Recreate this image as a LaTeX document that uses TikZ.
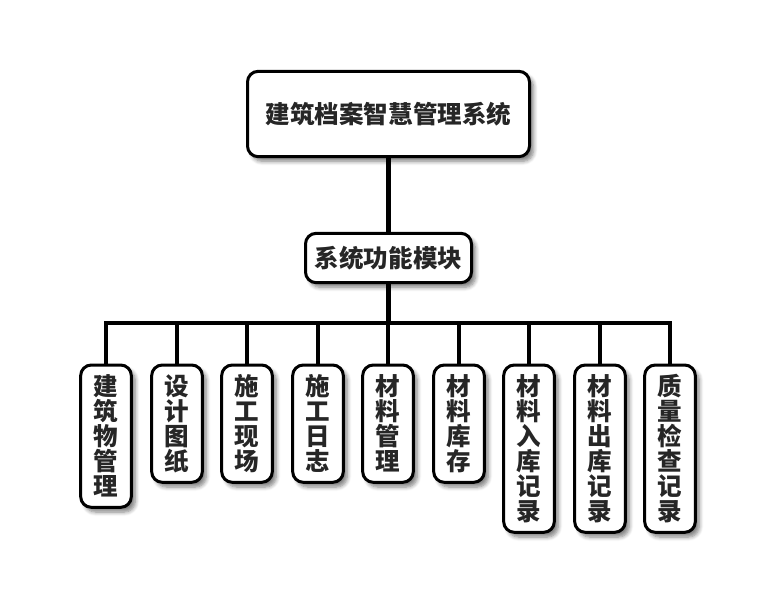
\documentclass[tikz,border=0pt]{standalone}
\usepackage{fontspec}
\newfontfamily\cjk{Noto Sans CJK SC}
\usetikzlibrary{shadows.blur}
\tikzset{
    box/.style={draw=black, line width=2.25pt, rounded corners=8pt, fill=white,
        text=black!85, inner sep=0pt,
        font=\cjk\bfseries\fontsize{18.4}{18.75}\selectfont,
        blur shadow={shadow xshift=3pt, shadow yshift=-3.5pt,
            shadow blur steps=6, shadow blur radius=3pt, shadow opacity=50}},
    leaf/.style={box, anchor=north, align=center, minimum width=38pt,
        minimum height={#1*18.75pt+13pt}},
    link/.style={line width=3.6pt, line join=miter}
}
\begin{document}
\begin{tikzpicture}[x=0.75pt, y=-0.75pt]
    \useasboundingbox (0, 0) rectangle (776, 607);

    \node[box, minimum width=211.5pt, minimum height=64pt] (top) at (388.5, 114) {建筑档案智慧管理系统};
    \node[box, minimum width=124.5pt, minimum height=37pt] (mid) at (388.5, 258) {系统功能模块};
    \coordinate (bus) at (388.5, 323);

    \foreach \i/\x/\n/\t in {1/106/5/{建\\筑\\物\\管\\理},
                             2/177/4/{设\\计\\图\\纸},
                             3/247/4/{施\\工\\现\\场},
                             4/318/4/{施\\工\\日\\志},
                             5/388/4/{材\\料\\管\\理},
                             6/459/4/{材\\料\\库\\存},
                             7/529/6/{材\\料\\入\\库\\记\\录},
                             8/600/6/{材\\料\\出\\库\\记\\录},
                             9/670/6/{质\\量\\检\\查\\记\\录}}
        \node[leaf=\n] (c\i) at (\x, 363.5) {\t};

    \draw[link] (top) -- (mid);
    \draw[link] (mid) -- (bus);
    \foreach \i in {1,...,9}
        \draw[link] (c\i.north) |- (bus);
\end{tikzpicture}
\end{document}
